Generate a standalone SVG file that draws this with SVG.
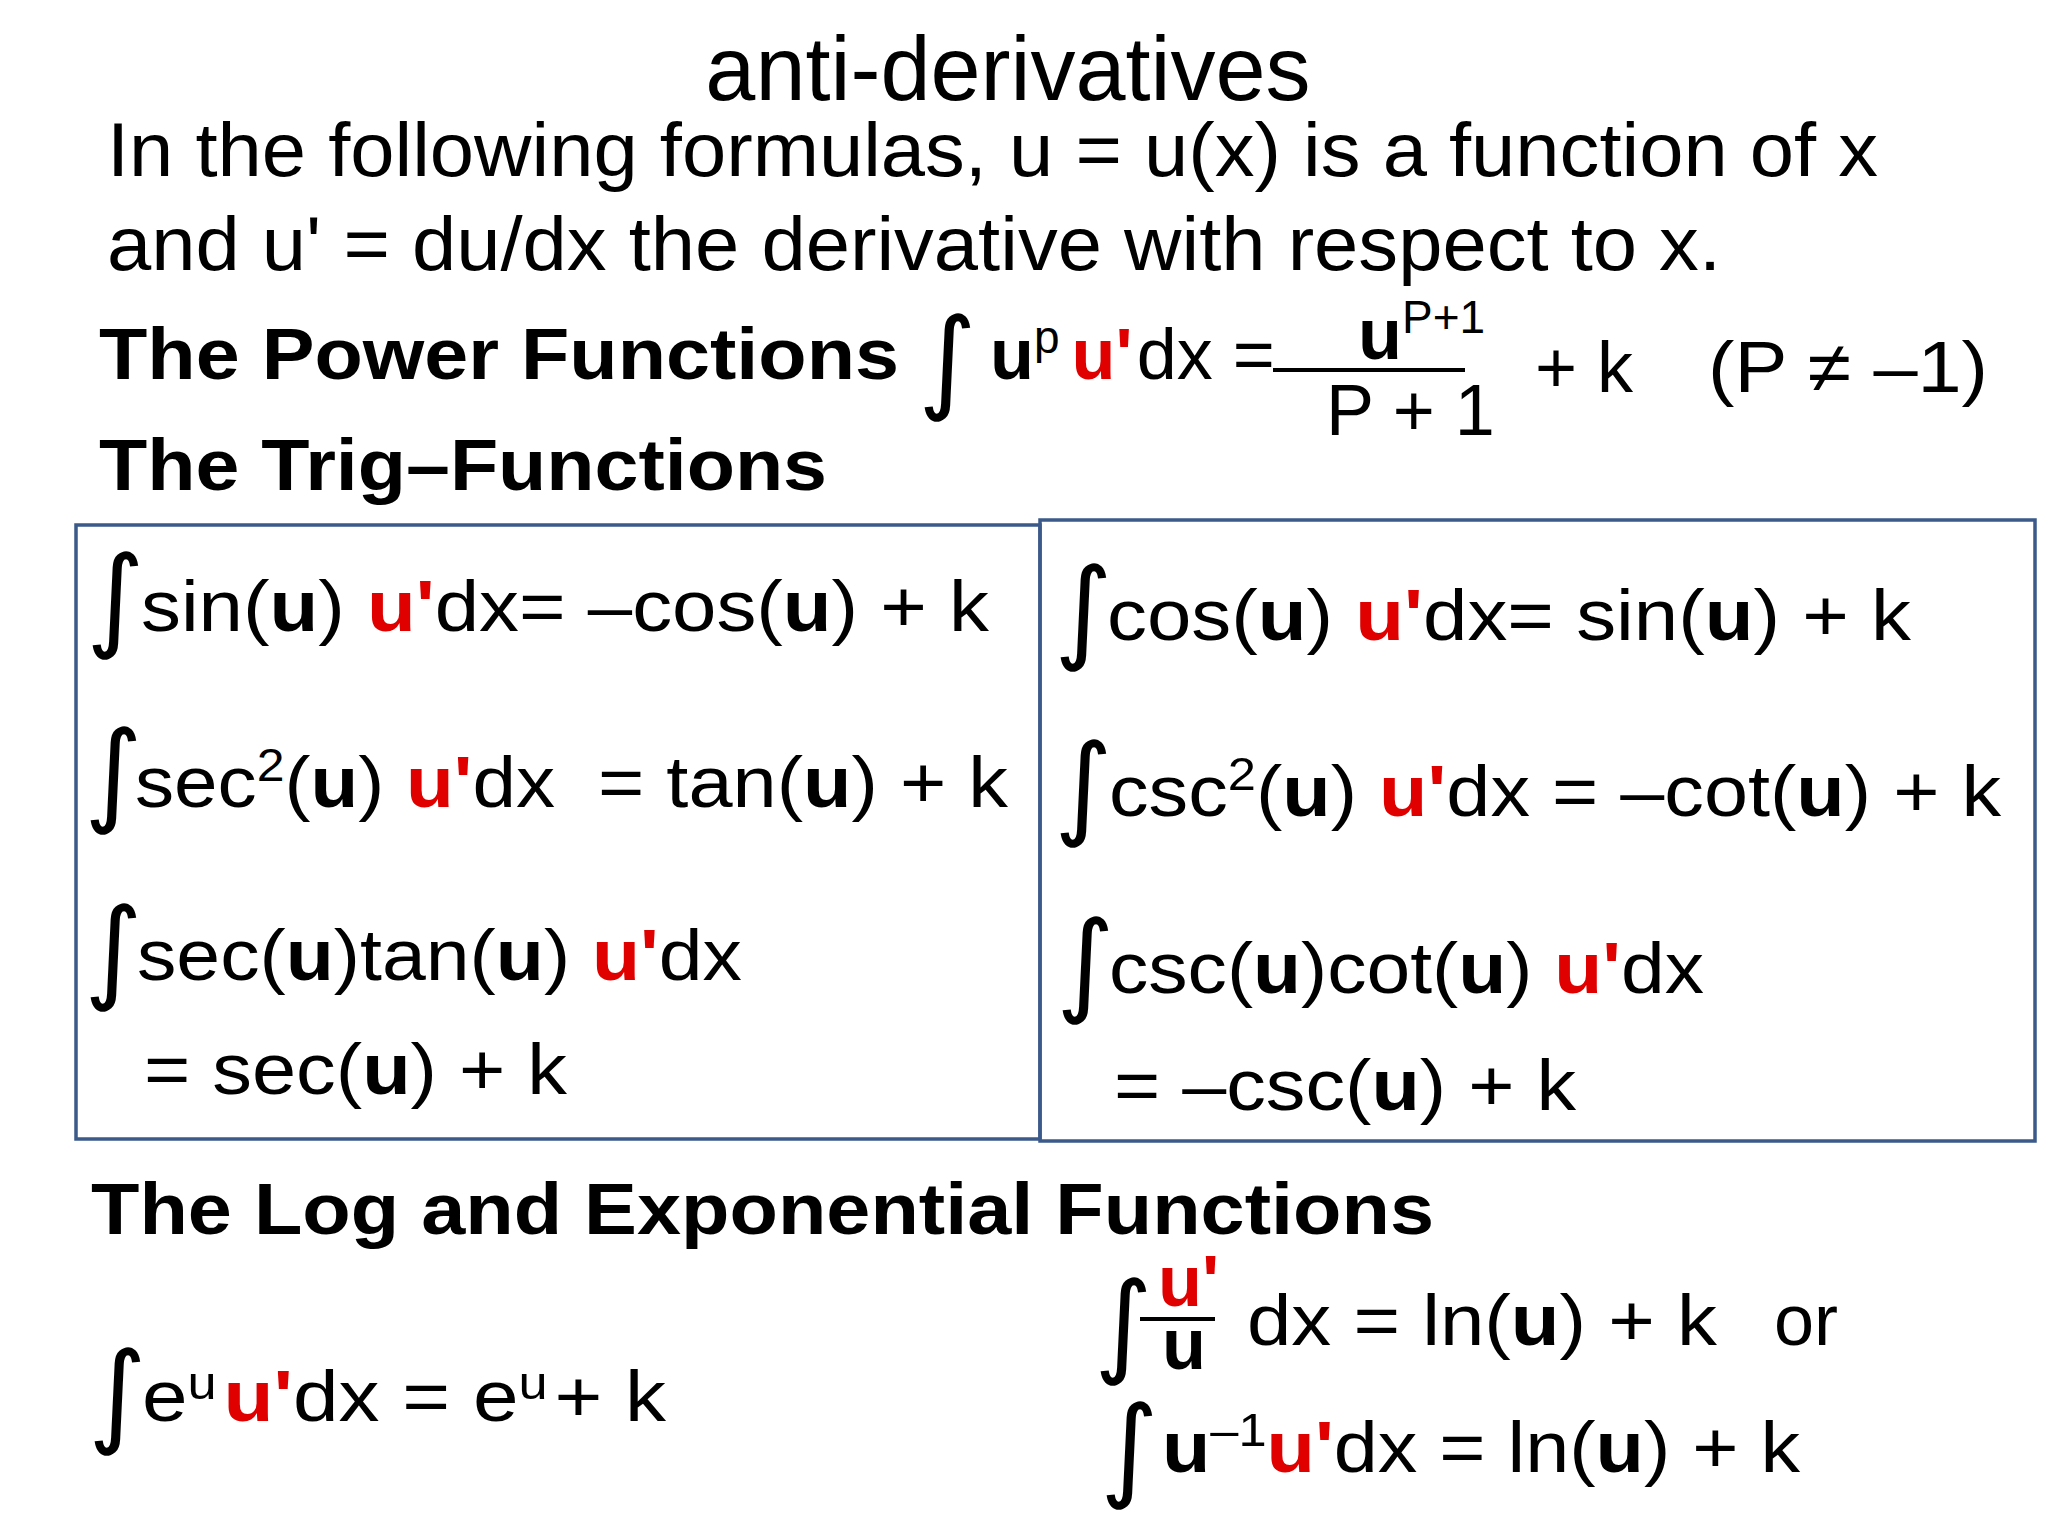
<svg xmlns="http://www.w3.org/2000/svg" width="2048" height="1536" viewBox="0 0 2048 1536">
<style>
text{font-family:"Liberation Sans",Arial,sans-serif;fill:#000}
.t{font-size:76px}
.h{font-size:72px;font-weight:bold}
.f{font-size:72px}
.b{font-weight:bold}
.r{font-weight:bold;fill:#e00000}
.i{font-size:112px;font-family:"DejaVu Sans",sans-serif}
.sup{font-size:46px}
.box{fill:none;stroke:#3b5a8a;stroke-width:3.5}
</style>
<rect width="2048" height="1536" fill="#fff"/>
<g id="header">
<text x="1008" y="100" text-anchor="middle" font-size="90">anti-derivatives</text>
<text class="t" x="107" y="176" textLength="1771" lengthAdjust="spacingAndGlyphs">In the following formulas, u = u(x) is a function of x</text>
<text class="t" x="107" y="270" textLength="1614" lengthAdjust="spacingAndGlyphs">and u' = du/dx the derivative with respect to x.</text>
</g>
<g id="power">
<text class="h" x="99" y="379" textLength="800" lengthAdjust="spacingAndGlyphs">The Power Functions</text>
<text class="i" x="918" y="398">∫</text>
<text class="f" x="990" y="379"><tspan class="b">u</tspan><tspan class="sup" dy="-26">p</tspan><tspan dy="26" dx="12" class="r">u'</tspan><tspan dx="4">dx =</tspan></text>
<text class="f" x="1358" y="359"><tspan class="b">u</tspan><tspan class="sup" dy="-26">P+1</tspan></text>
<line x1="1273" y1="370" x2="1465" y2="370" stroke="#000" stroke-width="4"/>
<text class="f" x="1326" y="435">P + 1</text>
<text class="f" x="1535" y="392">+ k</text>
<text class="f" x="1708" y="392" textLength="280" lengthAdjust="spacingAndGlyphs">(P ≠ –1)</text>
<text class="h" x="99" y="490" textLength="728" lengthAdjust="spacingAndGlyphs">The Trig–Functions</text>
</g>
<g id="trig-left">
<rect class="box" x="76" y="525" width="964" height="614"/>
<text class="i" x="86" y="636">∫</text>
<text class="f" x="141" y="631" textLength="848" lengthAdjust="spacingAndGlyphs">sin(<tspan class="b">u</tspan>) <tspan class="r">u'</tspan>dx= –cos(<tspan class="b">u</tspan>) + k</text>
<text class="i" x="84" y="811">∫</text>
<text class="f" x="135" y="807" textLength="420" lengthAdjust="spacingAndGlyphs">sec<tspan class="sup" dy="-26">2</tspan><tspan dy="26">(</tspan><tspan class="b">u</tspan>) <tspan class="r">u'</tspan>dx</text>
<text class="f" x="598" y="807" textLength="410" lengthAdjust="spacingAndGlyphs">= tan(<tspan class="b">u</tspan>) + k</text>
<text class="i" x="84" y="988">∫</text>
<text class="f" x="137" y="980" textLength="605" lengthAdjust="spacingAndGlyphs">sec(<tspan class="b">u</tspan>)tan(<tspan class="b">u</tspan>) <tspan class="r">u'</tspan>dx</text>
<text class="f" x="144" y="1094" textLength="423" lengthAdjust="spacingAndGlyphs">= sec(<tspan class="b">u</tspan>) + k</text>
</g>
<g id="trig-right">
<rect class="box" x="1040" y="520" width="995" height="621"/>
<text class="i" x="1054" y="648">∫</text>
<text class="f" x="1107" y="640" textLength="804" lengthAdjust="spacingAndGlyphs">cos(<tspan class="b">u</tspan>) <tspan class="r">u'</tspan>dx= sin(<tspan class="b">u</tspan>) + k</text>
<text class="i" x="1054" y="824">∫</text>
<text class="f" x="1109" y="816" textLength="892" lengthAdjust="spacingAndGlyphs">csc<tspan class="sup" dy="-26">2</tspan><tspan dy="26">(</tspan><tspan class="b">u</tspan>) <tspan class="r">u'</tspan>dx = –cot(<tspan class="b">u</tspan>) + k</text>
<text class="i" x="1056" y="1001">∫</text>
<text class="f" x="1109" y="993" textLength="595" lengthAdjust="spacingAndGlyphs">csc(<tspan class="b">u</tspan>)cot(<tspan class="b">u</tspan>) <tspan class="r">u'</tspan>dx</text>
<text class="f" x="1114" y="1110" textLength="462" lengthAdjust="spacingAndGlyphs">= –csc(<tspan class="b">u</tspan>) + k</text>
</g>
<g id="log-exp">
<text class="h" x="91" y="1234" textLength="1343" lengthAdjust="spacingAndGlyphs">The Log and Exponential Functions</text>
<text class="i" x="88" y="1432">∫</text>
<text class="f" x="142" y="1421" textLength="524" lengthAdjust="spacingAndGlyphs">e<tspan class="sup" dy="-22">u</tspan><tspan dy="22" dx="6" class="r">u'</tspan>dx = e<tspan class="sup" dy="-22">u</tspan><tspan dy="22" dx="6">+ k</tspan></text>
<text class="i" x="1094" y="1362" font-size="94">∫</text>
<text class="f" x="1158" y="1306" font-size="64"><tspan class="r">u'</tspan></text>
<line x1="1140" y1="1319" x2="1215" y2="1319" stroke="#000" stroke-width="4"/>
<text class="f" x="1162" y="1369" font-size="66"><tspan class="b">u</tspan></text>
<text class="f" x="1247" y="1345" textLength="470" lengthAdjust="spacingAndGlyphs">dx = ln(<tspan class="b">u</tspan>) + k</text>
<text class="f" x="1774" y="1345">or</text>
<text class="i" x="1100" y="1486">∫</text>
<text class="f" x="1162" y="1472" textLength="638" lengthAdjust="spacingAndGlyphs"><tspan class="b">u</tspan><tspan class="sup" dy="-26">–1</tspan><tspan dy="26" class="r">u'</tspan>dx = ln(<tspan class="b">u</tspan>) + k</text>
</g>
</svg>
